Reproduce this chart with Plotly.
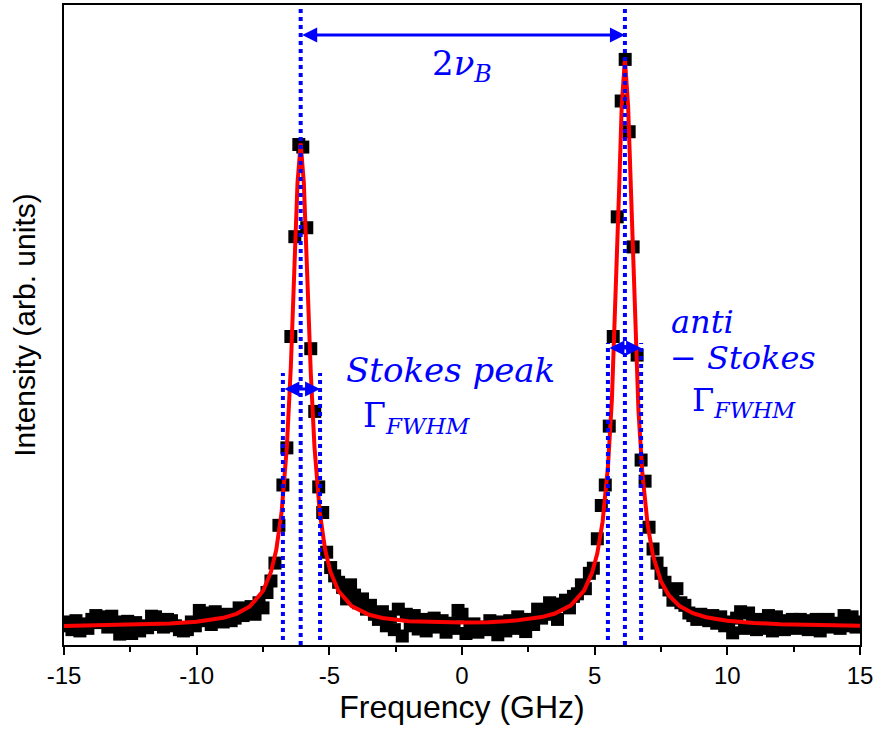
import plotly.graph_objects as go

# Measured spectrum: frequency grid starts at -15 GHz with 0.15 GHz spacing
freq_start = -15.0
freq_step = 0.15
intensity = [
    30, 36, 24, 38, 22, 33, 26, 40, 46, 35, 44,
    28, 45, 36, 17, 20, 37, 18, 35, 22, 30,
    27, 45, 44, 32, 28, 40, 38, 30, 24, 22,
    24, 36, 30, 54, 50, 38, 32, 52, 40, 36,
    48, 38, 42, 58, 46, 52, 60, 48, 66, 58,
    82, 100, 128, 187, 250, 308, 482, 638, 782, 778,
    652, 463, 365, 247, 207, 145, 121, 108, 98, 90,
    72, 94, 78, 66, 72, 56, 62, 48, 40, 52,
    30, 44, 24, 56, 14, 48, 30, 46, 25, 40,
    22, 36, 42, 28, 38, 20, 34, 26, 54, 48,
    18, 30, 33, 20, 28, 24, 38, 30, 16, 36,
    22, 38, 26, 44, 30, 21, 40, 32, 56, 42,
    48, 66, 52, 40, 64, 70, 58, 76, 80, 94,
    88, 112, 120, 166, 218, 250, 342, 482, 669, 850,
    915, 802, 622, 453, 289, 256, 184, 150, 128, 112,
    98, 86, 70, 88, 66, 62, 50, 46, 40, 48,
    44, 38, 46, 34, 44, 30, 36, 19, 42, 52,
    26, 50, 34, 24, 40, 26, 46, 22, 44, 36,
    24, 38, 40, 26, 40, 34, 24, 38, 40, 22,
    30, 40, 28, 34, 26, 46, 30, 44, 28, 36,
]

# Lorentzian fit curve (read values)
fit_freq = [-15, -13, -11, -10, -9, -8.5, -8, -7.5, -7.2, -7.0, -6.8, -6.6, -6.45,
            -6.3, -6.2, -6.08, -5.96, -5.86, -5.7, -5.56, -5.36, -5.16, -4.96,
            -4.66, -4.16, -3.5, -3, -2, -1, 0, 1, 2, 3, 3.5, 4.1, 4.6, 4.9, 5.1,
            5.3, 5.5, 5.65, 5.8, 5.92, 6.02, 6.14, 6.26, 6.36, 6.5, 6.65, 6.8,
            7.0, 7.2, 7.5, 7.8, 8.2, 8.7, 9.2, 10, 11, 12, 13, 15]
fit_int = [29.8, 30.9, 33.4, 36.3, 42.5, 48.7, 60.1, 84.3, 114.2, 148.8, 206.9,
           309.5, 435.7, 608.5, 721.5, 783.9, 721.6, 608.6, 425.8, 309.7, 207.1,
           149.1, 114.5, 84.7, 60.8, 47.2, 42.2, 37.3, 35.4, 35.0, 35.7, 38.1,
           43.6, 49.2, 62.0, 85.1, 112.6, 143.3, 193.0, 278.1, 383.7, 543.9,
           710.0, 842.7, 915.8, 842.6, 709.8, 518.9, 366.6, 267.1, 186.5, 139.3,
           99.3, 77.3, 60.8, 49.7, 43.4, 37.9, 34.4, 32.5, 31.3, 30.1]

x_tick_vals = [-15, -10, -5, 0, 5, 10, 15]
x_tick_text = ["-15", "-10", "-5", "0", "5", "10", "15"]
x_minor_vals = [-12.5, -7.5, -2.5, 2.5, 7.5, 12.5]

# Annotation geometry (GHz / arb. units)
stokes_peak = -6.08
anti_peak = 6.14
stokes_fwhm = (-6.75, -5.35)
anti_fwhm = (5.5, 6.75)
arrow_top_y = 953
stokes_arrow_y = 400
anti_arrow_y = 464
stokes_guide_top = 425
anti_guide_top = 472

BLUE = "#0000ff"
MATH_FONT = "DejaVu Serif"

fig = go.Figure()
fig.add_trace(go.Scatter(
    x0=freq_start, dx=freq_step, y=intensity, mode="markers",
    marker=dict(symbol="square", size=13, color="black", line=dict(width=0)),
    showlegend=False, hoverinfo="skip"))
fig.add_trace(go.Scatter(
    x=fit_freq, y=fit_int, mode="lines",
    line=dict(color="#ff0000", width=4),
    showlegend=False, hoverinfo="skip"))

dot = dict(color=BLUE, width=4, dash="dot")
for xv in (stokes_peak, anti_peak):
    fig.add_shape(type="line", xref="x", yref="paper", x0=xv, x1=xv, y0=0, y1=1,
                  line=dot, layer="above")
for xv in stokes_fwhm:
    fig.add_shape(type="line", xref="x", yref="y", x0=xv, x1=xv, y0=8, y1=stokes_guide_top,
                  line=dot, layer="above")
for xv in anti_fwhm:
    fig.add_shape(type="line", xref="x", yref="y", x0=xv, x1=xv, y0=8, y1=anti_guide_top,
                  line=dot, layer="above")

def double_arrow(x_a, x_b, yv):
    fig.add_annotation(x=x_b, y=yv, ax=x_a, ay=yv, xref="x", yref="y",
                       axref="x", ayref="y", text="", showarrow=True,
                       arrowhead=2, arrowside="end+start", arrowsize=1,
                       arrowwidth=3, arrowcolor=BLUE, standoff=0, startstandoff=0)

double_arrow(stokes_peak, anti_peak, arrow_top_y)
double_arrow(stokes_fwhm[0], stokes_fwhm[1], stokes_arrow_y)
double_arrow(anti_fwhm[0], anti_fwhm[1], anti_arrow_y)

def label(text, xv, yv, anchor="center", size=32):
    fig.add_annotation(x=xv, y=yv, xref="x", yref="y", text=text, showarrow=False,
                       xanchor=anchor, yanchor="middle",
                       font=dict(family=MATH_FONT, size=size, color=BLUE))

label("2<i>ν</i><sub><i>B</i></sub>", 0.0, 906, size=34)
label("<i>Stokes peak</i>", -0.45, 430, size=34)
label("Γ<sub><i>FWHM</i></sub>", -1.7, 355, size=33)
label("<i>anti</i>", 7.8, 505, anchor="left")
label("− <i>Stokes</i>", 7.75, 448, anchor="left")
label("Γ<sub><i>FWHM</i></sub>", 8.6, 380, anchor="left")

axis_font = "Arial, Liberation Sans, sans-serif"
fig.update_layout(
    width=876, height=729,
    margin=dict(l=64, r=16, t=5, b=84),
    paper_bgcolor="white", plot_bgcolor="white",
    showlegend=False,
    font=dict(family=axis_font, color="black"),
    xaxis=dict(
        range=[-15, 15], tickvals=x_tick_vals, ticktext=x_tick_text,
        ticks="outside", ticklen=8, tickwidth=2, tickcolor="black",
        tickfont=dict(size=24, family=axis_font, color="black"),
        showline=True, linecolor="black", linewidth=2, mirror=True,
        showgrid=False, zeroline=False,
        minor=dict(tickvals=x_minor_vals, ticks="outside", ticklen=5,
                   tickwidth=2, tickcolor="black", showgrid=False),
        title=dict(text="Frequency (GHz)", font=dict(size=32, family=axis_font),
                   standoff=6),
        automargin=False,
    ),
    yaxis=dict(
        range=[0, 1000], showticklabels=False, ticks="",
        showline=True, linecolor="black", linewidth=2, mirror=True,
        showgrid=False, zeroline=False,
        title=dict(text="Intensity (arb. units)", font=dict(size=30, family=axis_font),
                   standoff=18),
        automargin=False,
    ),
)

fig.write_html("out.html",
               config={"displayModeBar": False},
               post_script="document.body.style.margin='0px';document.body.style.padding='0px';")
